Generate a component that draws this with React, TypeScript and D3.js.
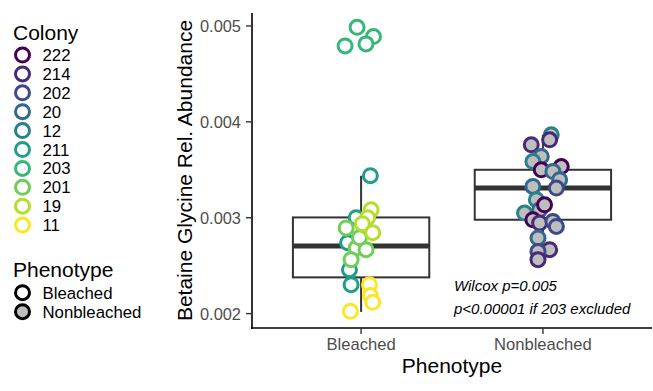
import React from "react";
import * as d3 from "d3";

// Colony levels (legend order) and viridis colours
const colonies = ["222", "214", "202", "20", "12", "211", "203", "201", "19", "11"];
const phenotypes = ["Bleached", "Nonbleached"];
const yTicks = [0.002, 0.003, 0.004, 0.005];

// Samples: colony, phenotype, value, jitter (in category units)
const sampleColony = [
  "203", "203", "203", "203",
  "211", "211", "211", "211", "211",
  "201", "201", "201", "201", "201",
  "19", "19", "19", "19",
  "11", "11", "11", "11",
  "12", "214", "214", "20", "12", "222", "222", "20", "20", "202", "20",
  "12", "20", "222", "12", "222", "214", "202", "202", "20", "214", "202", "214",
];
const samplePheno = [
  ...Array(22).fill("Bleached"),
  ...Array(23).fill("Nonbleached"),
];
const sampleValue = [
  0.004986, 0.004889, 0.004792, 0.004813,
  0.003438, 0.0030, 0.00274, 0.002458, 0.002302,
  0.002893, 0.002684, 0.002667, 0.002563, 0.002792,
  0.003083, 0.003, 0.002938, 0.002844,
  0.002302, 0.002188, 0.002118, 0.002024,
  0.003865, 0.00376, 0.003813, 0.003639, 0.003586, 0.003534, 0.0035, 0.003482, 0.003396, 0.003309, 0.003326,
  0.003188, 0.003083, 0.003135, 0.003049, 0.002979, 0.002945, 0.002961, 0.002909, 0.002789, 0.002667, 0.002649, 0.002563,
];
const sampleJitter = [
  -0.022, 0.068, -0.088, 0.027,
  0.051, -0.027, -0.074, -0.064, -0.055,
  -0.082, -0.027, 0.027, -0.055, -0.009,
  0.055, 0.036, 0.007, 0.064,
  0.046, 0.051, 0.064, -0.059,
  0.046, -0.064, 0.037, -0.009, -0.055, 0.101, -0.009, 0.055, 0.092, 0.074, -0.055,
  -0.036, -0.018, 0.009, -0.101, -0.055, -0.018, 0.055, 0.074, -0.027, 0.037, -0.027, -0.027,
];

// Box statistics
const boxLow = [0.002018, 0.002563];
const boxQ1 = [0.002378, 0.002979];
const boxMedian = [0.002705, 0.003309];
const boxQ3 = [0.003003, 0.0035];
const boxHigh = [0.003437, 0.003865];

const W = 653;
const H = 391;
const FONT = "'Liberation Sans', Arial, sans-serif";

export default function App() {
  const panel = { left: 252, right: 652, top: 13, bottom: 328 };

  const x = d3.scalePoint<string>().domain(phenotypes).range([panel.left, panel.right]).padding(0.6);
  const step = x.step();
  const y = d3.scaleLinear().domain([0.00185, 0.005135]).range([panel.bottom, panel.top]);
  const color = d3
    .scaleOrdinal<string, string>()
    .domain(colonies)
    .range(colonies.map((_, i) => d3.interpolateViridis(i / (colonies.length - 1))));
  const fill = d3.scaleOrdinal<string, string>().domain(phenotypes).range(["#ffffff", "#bebebe"]);

  const boxW = step * 0.75;
  const r = 7;

  return (
    <svg
      width={W}
      height={H}
      style={{ position: "absolute", left: 0, top: 0, background: "#fff" }}
      fontFamily={FONT}
    >
      {/* Boxes */}
      {phenotypes.map((p, i) => {
        const cx = x(p)!;
        return (
          <g key={p} stroke="#333333" fill="#ffffff">
            <line x1={cx} x2={cx} y1={y(boxHigh[i])} y2={y(boxQ3[i])} strokeWidth={2} />
            <line x1={cx} x2={cx} y1={y(boxQ1[i])} y2={y(boxLow[i])} strokeWidth={2} />
            <rect
              x={cx - boxW / 2}
              y={y(boxQ3[i])}
              width={boxW}
              height={y(boxQ1[i]) - y(boxQ3[i])}
              strokeWidth={2}
            />
            <line x1={cx - boxW / 2} x2={cx + boxW / 2} y1={y(boxMedian[i])} y2={y(boxMedian[i])} strokeWidth={5} />
          </g>
        );
      })}

      {/* Points */}
      {sampleValue.map((v, i) => (
        <circle
          key={i}
          cx={x(samplePheno[i])! + sampleJitter[i] * step}
          cy={y(v)}
          r={r}
          fill={fill(samplePheno[i])}
          stroke={color(sampleColony[i])}
          strokeWidth={3}
        />
      ))}

      {/* Axes */}
      <line x1={panel.left} x2={panel.left} y1={panel.top} y2={panel.bottom + 1} stroke="#000" strokeWidth={1.6} />
      <line x1={panel.left - 1} x2={panel.right} y1={panel.bottom} y2={panel.bottom} stroke="#000" strokeWidth={1.6} />
      {yTicks.map((t) => (
        <g key={t}>
          <line x1={panel.left - 6} x2={panel.left} y1={y(t)} y2={y(t)} stroke="#333" strokeWidth={1.4} />
          <text x={241} y={y(t)} dy="0.36em" textAnchor="end" fontSize={16.4} fill="#4d4d4d">
            {d3.format(".3f")(t)}
          </text>
        </g>
      ))}
      {phenotypes.map((p) => (
        <g key={p}>
          <line x1={x(p)} x2={x(p)} y1={panel.bottom} y2={panel.bottom + 6} stroke="#333" strokeWidth={1.4} />
          <text x={x(p)} y={350} textAnchor="middle" fontSize={16.6} fill="#4d4d4d">
            {p}
          </text>
        </g>
      ))}
      <text x={(panel.left + panel.right) / 2} y={373} textAnchor="middle" fontSize={21} fill="#000">
        Phenotype
      </text>
      <text
        transform={`translate(192,${(panel.top + panel.bottom) / 2}) rotate(-90)`}
        textAnchor="middle"
        fontSize={21}
        fill="#000"
      >
        Betaine Glycine Rel. Abundance
      </text>

      {/* Annotation */}
      <text x={454} y={291} fontSize={15} fontStyle="italic" fill="#000">
        Wilcox p=0.005
      </text>
      <text x={454} y={313.5} fontSize={15} fontStyle="italic" fill="#000">
        p&lt;0.00001 if 203 excluded
      </text>

      {/* Legend: Colony */}
      <text x={13} y={39.5} fontSize={21} fill="#000">
        Colony
      </text>
      {colonies.map((c, i) => (
        <g key={c} transform={`translate(0,${55 + i * 18.9})`}>
          <circle cx={22.5} cy={0} r={r} fill="#fff" stroke={color(c)} strokeWidth={3} />
          <text x={42.5} y={0} dy="0.36em" fontSize={16.8} fill="#000">
            {c}
          </text>
        </g>
      ))}

      {/* Legend: Phenotype */}
      <text x={13} y={277} fontSize={21} fill="#000">
        Phenotype
      </text>
      {phenotypes.map((p, i) => (
        <g key={p} transform={`translate(0,${292.7 + i * 19})`}>
          <circle cx={22.5} cy={0} r={r} fill={fill(p)} stroke="#000" strokeWidth={3} />
          <text x={42.5} y={0} dy="0.36em" fontSize={16.8} fill="#000">
            {p}
          </text>
        </g>
      ))}
    </svg>
  );
}
